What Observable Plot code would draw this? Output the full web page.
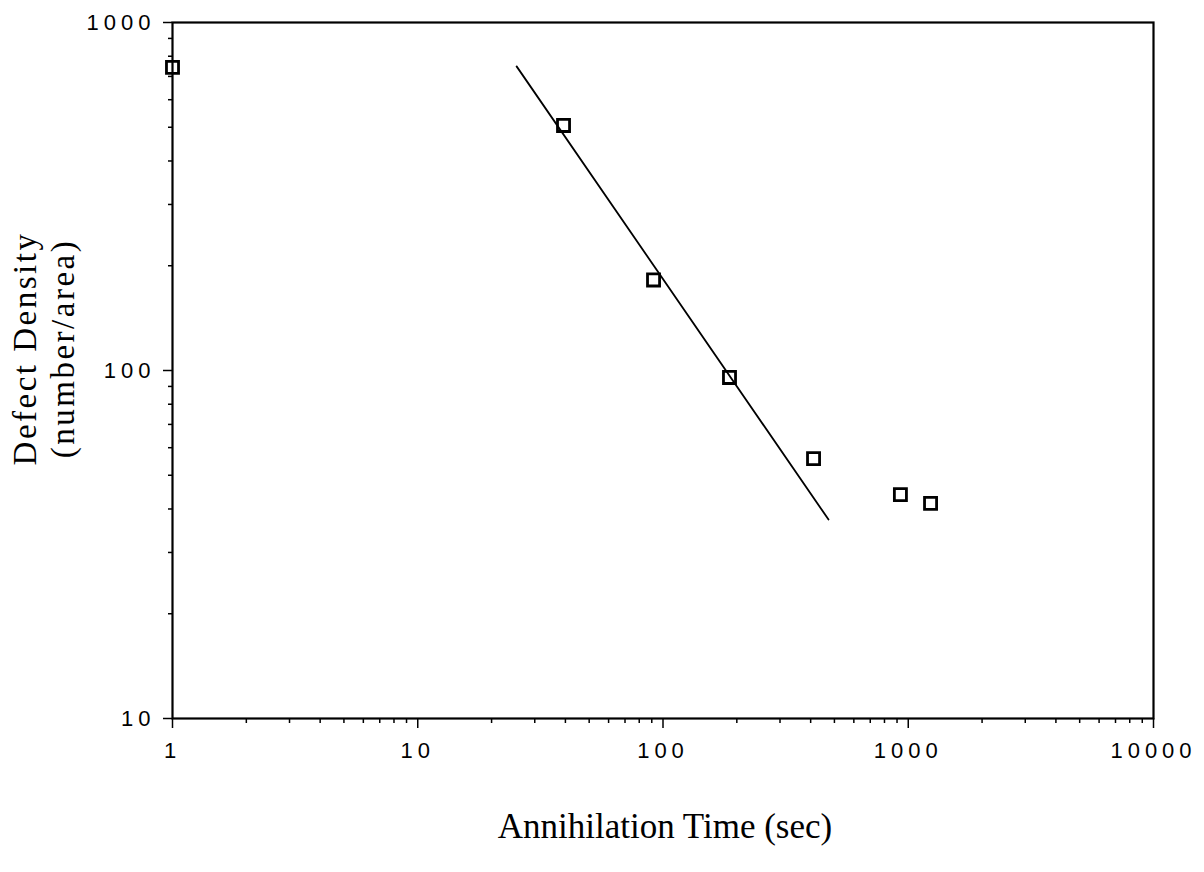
<!DOCTYPE html>
<html>
<head>
<meta charset="utf-8">
<script src="https://cdn.jsdelivr.net/npm/d3@7"></script>
<script src="https://cdn.jsdelivr.net/npm/@observablehq/plot@0.6"></script>
<style>
  html, body { margin: 0; padding: 0; background: #fff; }
  .tl text { letter-spacing: 5px; }
  .yl text { letter-spacing: 2.5px; }
</style>
</head>
<body>
<div id="chart"></div>
<script>
// Data
const times = [1, 39.3, 91.5, 186.7, 411, 929, 1233];
const densities = [743, 506, 182, 95.5, 55.8, 44.0, 41.5];
const fitTimes = [25.3, 473];
const fitDensities = [748, 37.3];
const xMajorTicks = [1, 10, 100, 1000, 10000];
const xTickLabels = ["1", "10", "100", "1000", "10000"];
const yMajorTicks = [10, 100, 1000];
const yTickLabels = ["10", "100", "1000"];
const xLabel = "Annihilation Time (sec)";
const yLabel = "Defect Density\n(number/area)";

const points = times.map((t, i) => ({t, d: densities[i]}));
const fit = fitTimes.map((t, i) => ({t, d: fitDensities[i]}));

const minor = (lo, hi) => {
  const out = [];
  for (let p = lo; p < hi; p *= 10) for (let k = 2; k <= 9; k++) out.push(p * k);
  return out;
};
const xMinor = minor(1, 10000);
const yMinor = minor(10, 1000);

const chart = Plot.plot({
  width: 1204,
  height: 872,
  marginLeft: 172,
  marginRight: 51,
  marginTop: 22,
  marginBottom: 154,
  style: {background: "#fff", color: "#000"},
  x: {type: "log", domain: [1, 10000]},
  y: {type: "log", domain: [10, 1000]},
  marks: [
    Plot.frame({stroke: "#000", strokeWidth: 2.2}),
    Plot.axisX({ticks: xMinor, tickSize: 5, tickFormat: () => "", strokeWidth: 1.5, label: null}),
    Plot.axisY({ticks: yMinor, tickSize: 4, tickFormat: () => "", strokeWidth: 1.5, label: null}),
    Plot.axisX({ticks: xMajorTicks, tickSize: 10, tickPadding: 14, strokeWidth: 1.5,
      tickFormat: (d) => xTickLabels[xMajorTicks.indexOf(d)],
      fontSize: 22, fontFamily: "Liberation Sans, Arial, sans-serif", className: "tl", label: null}),
    Plot.axisY({ticks: yMajorTicks, tickSize: 9, tickPadding: 8, strokeWidth: 1.5,
      tickFormat: (d) => yTickLabels[yMajorTicks.indexOf(d)],
      fontSize: 22, fontFamily: "Liberation Sans, Arial, sans-serif", className: "tl", label: null}),
    Plot.line(fit, {x: "t", y: "d", stroke: "#000", strokeWidth: 1.8}),
    Plot.dot(points, {x: "t", y: "d", symbol: "square", r: 6.8, stroke: "#000", strokeWidth: 2.8, fill: "none"}),
    Plot.text([xLabel], {frameAnchor: "bottom", dx: 2, dy: 108, fontSize: 35, fontFamily: "Liberation Serif, Times New Roman, serif", lineAnchor: "middle"}),
    Plot.text([yLabel], {frameAnchor: "left", dx: -130, dy: -22, rotate: -90, textAnchor: "middle", lineAnchor: "middle", lineHeight: 1.15, fontSize: 33, fontFamily: "Liberation Serif, Times New Roman, serif", className: "yl"})
  ]
});
document.getElementById("chart").appendChild(chart);
</script>
</body>
</html>
